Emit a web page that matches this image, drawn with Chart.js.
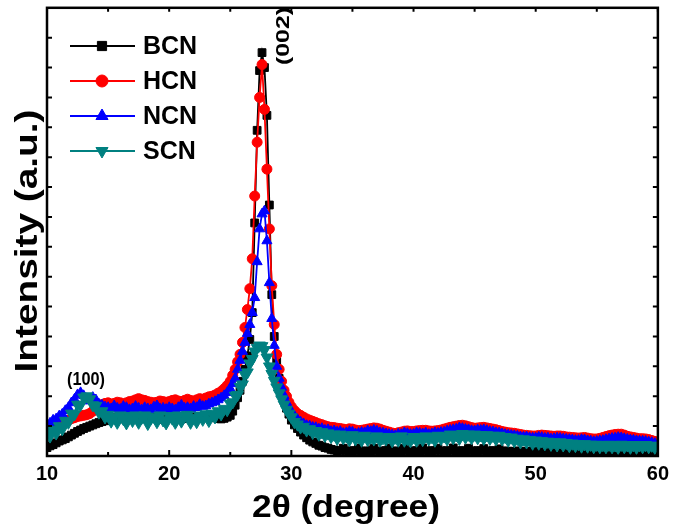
<!DOCTYPE html>
<html>
<head>
<meta charset="utf-8">
<script src="https://cdn.jsdelivr.net/npm/chart.js@4.4.1/dist/chart.umd.min.js"></script>
<style>
  html, body { margin: 0; padding: 0; background: #fff; }
  canvas { display: block; }
</style>
</head>
<body>
<canvas id="xrd" width="675" height="527"></canvas>
<script>
// 2theta positions (deg)
var twoTheta = [
  10,10.25,10.5,10.75, 11,11.25,11.5,11.75, 12,12.25,12.5,12.75, 13,13.25,13.5,13.75, 14,14.25,14.5,14.75,
  15,15.25,15.5,15.75, 16,16.25,16.5,16.75, 17,17.25,17.5,17.75, 18,18.25,18.5,18.75, 19,19.25,19.5,19.75,
  20,20.25,20.5,20.75, 21,21.25,21.5,21.75, 22,22.25,22.5,22.75, 23,23.25,23.5,23.75, 24,24.25,24.5,24.75, 25,
  25.2,25.4,25.6,25.8,26,26.2,26.4,26.6,26.8,27,27.2,27.4,27.6,27.8,28,28.2,28.4,28.6,28.8,29,29.2,29.4,29.6,29.8,
  30,30.25,30.5,30.75, 31,31.25,31.5,31.75, 32,32.25,32.5,32.75, 33,33.25,33.5,33.75, 34,34.25,34.5,34.75,
  35,35.25,35.5,35.75, 36,36.25,36.5,36.75, 37,37.25,37.5,37.75, 38,38.25,38.5,38.75, 39,39.25,39.5,39.75,
  40,40.25,40.5,40.75, 41,41.25,41.5,41.75, 42,42.25,42.5,42.75, 43,43.25,43.5,43.75, 44,44.25,44.5,44.75,
  45,45.25,45.5,45.75, 46,46.25,46.5,46.75, 47,47.25,47.5,47.75, 48,48.25,48.5,48.75, 49,49.25,49.5,49.75,
  50,50.25,50.5,50.75, 51,51.25,51.5,51.75, 52,52.25,52.5,52.75, 53,53.25,53.5,53.75, 54,54.25,54.5,54.75,
  55,55.25,55.5,55.75, 56,56.25,56.5,56.75, 57,57.25,57.5,57.75, 58,58.25,58.5,58.75, 59,59.25,59.5,59.75, 60
];

var bcn = [
  0.28,0.34,0.38,0.44, 0.50,0.54,0.58,0.64, 0.70,0.76,0.82,0.87, 0.92,0.96,1.00,1.04, 1.08,1.12,1.15,1.18,
  1.20,1.26,1.28,1.25, 1.24,1.27,1.28,1.25, 1.24,1.28,1.30,1.27, 1.26,1.23,1.25,1.28, 1.29,1.25,1.23,1.26,
  1.28,1.26,1.26,1.30, 1.31,1.27,1.25,1.28, 1.30,1.31,1.31,1.28, 1.28,1.31,1.32,1.28, 1.25,1.24,1.26,1.30, 1.36,
  1.50,1.70,1.95,2.20,2.50,2.90,3.35,3.90,4.80,7.80,10.9,12.9,13.5,13.0,11.4,8.4,5.4,4.0,3.2,2.6,2.2,1.85,1.6,1.4,
  1.20,1.04,0.92,0.80, 0.70,0.61,0.53,0.47, 0.42,0.36,0.33,0.28, 0.26,0.22,0.20,0.18, 0.17,0.26,0.17,0.16,
  0.18,0.17,0.27,0.16, 0.17,0.16,0.18,0.26, 0.17,0.16,0.17,0.18, 0.27,0.16,0.17,0.16, 0.18,0.26,0.17,0.16,
  0.17,0.18,0.16,0.27, 0.17,0.16,0.18,0.17, 0.26,0.17,0.16,0.18, 0.17,0.27,0.16,0.17, 0.18,0.16,0.26,0.17,
  0.16,0.18,0.17,0.25, 0.16,0.17,0.18,0.16, 0.24,0.16,0.17,0.16, 0.16,0.15,0.17,0.16, 0.15,0.16,0.15,0.16,
  0.15,0.16,0.15,0.15, 0.16,0.15,0.15,0.16, 0.15,0.15,0.16,0.15, 0.15,0.16,0.15,0.15, 0.16,0.15,0.15,0.15,
  0.15,0.16,0.15,0.15, 0.15,0.15,0.16,0.15, 0.15,0.15,0.15,0.16, 0.15,0.15,0.15,0.15, 0.15,0.15,0.15,0.15, 0.15
];

var hcn = [
  0.85,0.88,0.95,1.00, 1.05,1.10,1.15,1.20, 1.25,1.28,1.32,1.34, 1.36,1.38,1.42,1.50, 1.58,1.66,1.72,1.76,
  1.78,1.74,1.76,1.80, 1.78,1.74,1.78,1.82, 1.84,1.88,1.92,1.88, 1.86,1.82,1.80,1.78, 1.80,1.84,1.82,1.80,
  1.82,1.86,1.88,1.84, 1.82,1.86,1.90,1.86, 1.84,1.88,1.92,1.90, 1.94,1.98,2.00,2.04, 2.10,2.16,2.25,2.36, 2.50,
  2.70,2.90,3.15,3.40,3.80,4.30,4.90,5.60,6.60,8.70,10.5,12.0,13.1,11.6,9.6,7.6,5.7,4.4,3.4,2.9,2.5,2.2,2.0,1.8,
  1.65,1.52,1.42,1.36, 1.30,1.24,1.20,1.16, 1.12,1.08,1.05,1.01, 0.98,0.96,0.95,0.93, 0.92,0.90,0.88,0.91,
  0.90,0.87,0.85,0.86, 0.88,0.90,0.92,0.94, 0.93,0.90,0.86,0.83, 0.80,0.77,0.75,0.78, 0.80,0.83,0.84,0.82,
  0.82,0.84,0.85,0.86, 0.86,0.84,0.83,0.84, 0.85,0.87,0.90,0.93, 0.96,0.98,1.00,1.02, 1.03,1.01,0.98,0.95,
  0.93,0.94,0.95,0.96, 0.94,0.92,0.90,0.88, 0.85,0.82,0.80,0.78, 0.77,0.76,0.74,0.72, 0.70,0.69,0.68,0.67,
  0.67,0.69,0.70,0.69, 0.68,0.67,0.66,0.67, 0.67,0.66,0.64,0.63, 0.62,0.61,0.60,0.61, 0.62,0.60,0.58,0.57,
  0.57,0.59,0.62,0.65, 0.68,0.70,0.72,0.73, 0.73,0.70,0.66,0.64, 0.62,0.60,0.58,0.58, 0.57,0.55,0.52,0.49, 0.45
];

var ncn = [
  1.05,1.10,1.20,1.24, 1.34,1.40,1.52,1.62, 1.78,1.90,2.05,2.12, 2.02,1.92,1.84,1.96, 1.88,1.74,1.70,1.64,
  1.62,1.58,1.68,1.60, 1.56,1.66,1.62,1.55, 1.58,1.66,1.60,1.54, 1.62,1.58,1.55,1.64, 1.68,1.58,1.60,1.56,
  1.62,1.58,1.54,1.62, 1.70,1.60,1.62,1.58, 1.66,1.62,1.72,1.66, 1.68,1.74,1.78,1.82, 1.88,1.94,2.02,2.12, 2.25,
  2.42,2.60,2.90,3.20,3.50,3.80,4.10,4.40,4.80,5.30,6.50,7.60,8.10,8.20,7.20,5.80,4.60,3.70,3.00,2.60,2.30,2.02,1.80,1.62,
  1.48,1.34,1.22,1.14, 1.08,1.02,1.00,0.96, 0.95,0.90,0.92,0.86, 0.88,0.82,0.84,0.80, 0.82,0.76,0.78,0.82,
  0.80,0.74,0.76,0.79, 0.78,0.84,0.82,0.86, 0.83,0.78,0.77,0.74, 0.72,0.70,0.68,0.73, 0.72,0.78,0.75,0.72,
  0.73,0.78,0.76,0.74, 0.77,0.72,0.74,0.78, 0.76,0.79,0.80,0.84, 0.86,0.88,0.90,0.94, 0.92,0.89,0.88,0.85,
  0.84,0.87,0.86,0.88, 0.85,0.82,0.81,0.78, 0.77,0.74,0.72,0.70, 0.69,0.68,0.66,0.64, 0.63,0.64,0.61,0.60,
  0.60,0.63,0.62,0.59, 0.60,0.57,0.58,0.60, 0.59,0.57,0.56,0.55, 0.54,0.52,0.52,0.55, 0.54,0.51,0.50,0.48,
  0.49,0.51,0.52,0.55, 0.57,0.59,0.60,0.62, 0.61,0.58,0.56,0.54, 0.53,0.51,0.50,0.50, 0.49,0.47,0.45,0.42, 0.40
];

var scn = [
  0.78,0.66,0.88,0.76, 1.00,0.90,1.18,1.12, 1.42,1.40,1.72,1.72, 1.96,2.00,1.90,1.70, 1.68,1.46,1.50,1.30,
  1.38,1.16,1.30,1.12, 1.36,1.24,1.10,1.34, 1.18,1.36,1.12,1.28, 1.36,1.08,1.26,1.32, 1.14,1.36,1.20,1.10,
  1.34,1.26,1.12,1.36, 1.16,1.32,1.38,1.12, 1.28,1.14,1.36,1.22, 1.40,1.18,1.42,1.30, 1.50,1.40,1.58,1.54, 1.75,
  1.80,2.02,2.05,2.32,2.40,2.72,2.80,3.10,3.25,3.50,3.62,3.70,3.68,3.55,3.30,3.00,2.75,2.52,2.30,2.10,1.90,1.72,1.55,1.42,
  1.30,1.14,1.06,0.96, 0.98,0.86,0.90,0.78, 0.84,0.72,0.80,0.68, 0.76,0.64,0.72,0.58, 0.72,0.60,0.66,0.54,
  0.70,0.56,0.64,0.52, 0.68,0.54,0.62,0.56, 0.66,0.52,0.60,0.56, 0.64,0.50,0.62,0.52, 0.66,0.52,0.58,0.50,
  0.64,0.52,0.62,0.54, 0.66,0.56,0.64,0.52, 0.68,0.58,0.66,0.56, 0.72,0.60,0.70,0.58, 0.74,0.62,0.72,0.60,
  0.72,0.60,0.70,0.58, 0.70,0.58,0.68,0.56, 0.68,0.56,0.64,0.52, 0.62,0.50,0.58,0.46, 0.56,0.46,0.54,0.42,
  0.52,0.42,0.50,0.40, 0.48,0.38,0.46,0.36, 0.46,0.36,0.44,0.34, 0.42,0.34,0.40,0.32, 0.40,0.32,0.38,0.30,
  0.38,0.30,0.37,0.30, 0.38,0.30,0.36,0.28, 0.38,0.30,0.36,0.28, 0.37,0.28,0.36,0.30, 0.37,0.30,0.35,0.28, 0.34
];

var seriesNames = ['BCN', 'HCN', 'NCN', 'SCN'];
var seriesColors = ['#000000', '#ff0000', '#0000ff', '#008080'];
var xTicks = [10, 20, 30, 40, 50, 60];

var FONT = '"Liberation Sans", Arial, sans-serif';

function pts(ys) {
  return twoTheta.map(function (x, i) { return { x: x, y: ys[i] }; });
}

var markers = [
  { pointStyle: 'rect', radius: 5.5, rotation: 0, line: 1.8 },
  { pointStyle: 'circle', radius: 5, rotation: 0, line: 1.8 },
  { pointStyle: 'triangle', radius: 5.8, rotation: 0, line: 1.8 },
  { pointStyle: 'triangle', radius: 6.8, rotation: 180, line: 2.5 }
];

function makeSet(i, ys) {
  return {
    label: seriesNames[i],
    data: pts(ys),
    borderColor: seriesColors[i],
    backgroundColor: seriesColors[i],
    pointBackgroundColor: seriesColors[i],
    pointBorderColor: seriesColors[i],
    borderWidth: markers[i].line,
    pointBorderWidth: 1,
    pointStyle: markers[i].pointStyle,
    pointRadius: markers[i].radius,
    pointRotation: markers[i].rotation,
    tension: 0,
    order: 4 - i
  };
}

function stretchText(ctx, txt, x, y, targetW) {
  var w = ctx.measureText(txt).width;
  ctx.save();
  ctx.translate(x, y);
  ctx.scale(targetW / w, 1);
  ctx.fillText(txt, 0, 0);
  ctx.restore();
}

var framePlugin = {
  id: 'frame',
  afterDraw: function (chart) {
    var ctx = chart.ctx;
    var a = chart.chartArea;
    var xs = chart.scales.x, ys = chart.scales.y;
    ctx.save();

    // ticks (inward)
    ctx.strokeStyle = '#000';
    ctx.lineWidth = 2;
    ctx.beginPath();
    for (var v = 10; v <= 60; v += 5) {
      var px = xs.getPixelForValue(v);
      var len = (v % 10 === 0) ? 6 : 4;
      ctx.moveTo(px, a.bottom); ctx.lineTo(px, a.bottom - len);
      ctx.moveTo(px, a.top); ctx.lineTo(px, a.top + 4);
    }
    for (var k = 1; k < 15; k++) {
      var py = ys.getPixelForValue(k);
      ctx.moveTo(a.left, py); ctx.lineTo(a.left + 5, py);
      ctx.moveTo(a.right, py); ctx.lineTo(a.right - 5, py);
    }
    ctx.stroke();

    // frame
    ctx.lineWidth = 2.5;
    ctx.strokeRect(a.left, a.top, a.right - a.left, a.bottom - a.top);

    // axis titles
    ctx.fillStyle = '#000';
    ctx.textAlign = 'center';
    ctx.textBaseline = 'alphabetic';
    ctx.font = 'bold 31px ' + FONT;
    stretchText(ctx, '2\u03B8 (degree)', 346, 517, 188);

    ctx.save();
    ctx.translate(37, 241);
    ctx.rotate(-Math.PI / 2);
    ctx.font = 'bold 32px ' + FONT;
    stretchText(ctx, 'Intensity (a.u.)', 0, 0, 263);
    ctx.restore();

    // peak labels
    ctx.font = 'bold 18px ' + FONT;
    stretchText(ctx, '(100)', 86, 385, 38);
    ctx.save();
    ctx.translate(289, 36);
    ctx.rotate(-Math.PI / 2);
    ctx.font = 'bold 19px ' + FONT;
    stretchText(ctx, '(002)', 0, 0, 58);
    ctx.restore();

    // legend
    var rows = [46, 81, 116, 151];
    var legMarkers = [
      { pointStyle: 'rect', radius: 6.5, rotation: 0 },
      { pointStyle: 'circle', radius: 6, rotation: 0 },
      { pointStyle: 'triangle', radius: 7, rotation: 0 },
      { pointStyle: 'triangle', radius: 7, rotation: 180 }
    ];
    ctx.textAlign = 'left';
    ctx.textBaseline = 'middle';
    ctx.font = 'bold 25px ' + FONT;
    for (var i = 0; i < 4; i++) {
      var y = rows[i];
      ctx.strokeStyle = seriesColors[i];
      ctx.fillStyle = seriesColors[i];
      ctx.lineWidth = 2;
      ctx.beginPath();
      ctx.moveTo(70, y); ctx.lineTo(135, y);
      ctx.stroke();
      ctx.lineWidth = 1;
      Chart.helpers.drawPoint(ctx, {
        pointStyle: legMarkers[i].pointStyle,
        radius: legMarkers[i].radius,
        rotation: legMarkers[i].rotation,
        borderWidth: 1
      }, 102, y);
      ctx.fillStyle = '#000';
      ctx.fillText(seriesNames[i], 143, y + 1);
    }
    ctx.restore();
  }
};

new Chart(document.getElementById('xrd'), {
  type: 'line',
  data: {
    datasets: [
      makeSet(0, bcn),
      makeSet(1, hcn),
      makeSet(2, ncn),
      makeSet(3, scn)
    ]
  },
  options: {
    responsive: false,
    animation: false,
    devicePixelRatio: 1,
    events: [],
    layout: { padding: { left: 47, right: 14, top: 3, bottom: 35 } },
    plugins: { legend: { display: false }, tooltip: { enabled: false } },
    scales: {
      x: {
        type: 'linear',
        min: 10,
        max: 60,
        grid: { display: false, drawTicks: false },
        border: { display: false },
        afterBuildTicks: function (s) { s.ticks = xTicks.map(function (v) { return { value: v }; }); },
        ticks: {
          color: '#000',
          padding: 6,
          maxRotation: 0,
          autoSkip: false,
          font: { family: FONT, size: 20, weight: 'bold' }
        }
      },
      y: {
        type: 'linear',
        min: 0,
        max: 15,
        display: false
      }
    }
  },
  plugins: [framePlugin]
});
</script>
</body>
</html>
